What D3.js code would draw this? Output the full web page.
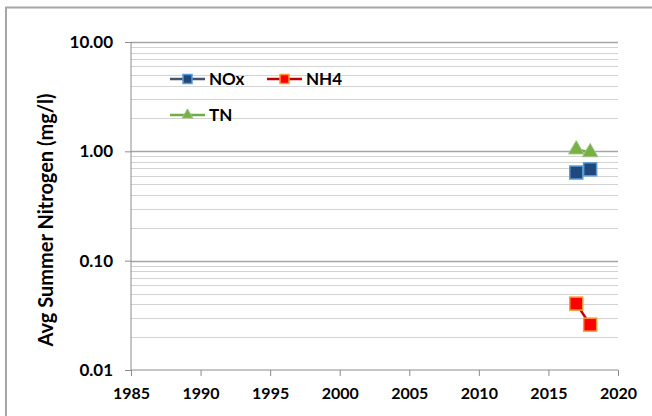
<!DOCTYPE html>
<html>
<head>
<meta charset="utf-8">
<script src="https://cdn.jsdelivr.net/npm/d3@7"></script>
<style>
  body { margin: 0; background: #fff; }
  text { font-family: Lato, "Open Sans", sans-serif; font-weight: bold; }
</style>
</head>
<body>
<div id="chart"></div>
<script>
var years = [2017, 2018]
var nox = [0.64, 0.685]
var nh4 = [0.0405, 0.026]
var tn = [1.04, 0.98]
var xTicks = [1985, 1990, 1995, 2000, 2005, 2010, 2015, 2020]
var yTicks = [0.01, 0.1, 1, 10]
var yTickLabels = ["0.01", "0.10", "1.00", "10.00"]

var width = 652, height = 416
var margin = {top: 42, right: 34, bottom: 46, left: 131}

var svg = d3.select("#chart").append("svg")
    .attr("width", width)
    .attr("height", height)

// outer chart frame
svg.append("path")
    .attr("d", "M6,420 V7.5 H660")
    .attr("fill", "none")
    .attr("stroke", "#a6a6a6")
    .attr("stroke-width", 2)

var x = d3.scaleLinear().domain([1985, 2020]).range([margin.left, width - margin.right])
var y = d3.scaleLog().domain([0.01, 10]).range([height - margin.bottom, margin.top])

// minor gridlines
var minor = []
yTicks.slice(0, 3).forEach(function (d) {
    for (var k = 2; k <= 9; k++) minor.push(d * k)
})
svg.append("g").selectAll("line")
    .data(minor)
    .enter().append("line")
    .attr("x1", x(1985)).attr("x2", x(2020))
    .attr("y1", function (d) { return Math.round(y(d)) + 0.5 })
    .attr("y2", function (d) { return Math.round(y(d)) + 0.5 })
    .attr("stroke", "#d3d3d3")
    .attr("stroke-width", 1.2)

// major gridlines
svg.append("g").selectAll("line")
    .data(yTicks.slice(1))
    .enter().append("line")
    .attr("x1", x(1985)).attr("x2", x(2020))
    .attr("y1", function (d) { return Math.round(y(d)) + 0.5 })
    .attr("y2", function (d) { return Math.round(y(d)) + 0.5 })
    .attr("stroke", "#a6a6a6")
    .attr("stroke-width", 1.5)

// y axis
var yAxis = svg.append("g")
    .attr("transform", "translate(" + x(1985) + ",0)")
    .call(d3.axisLeft(y).tickValues(yTicks).tickSize(6).tickPadding(12)
        .tickFormat(function (d, i) { return yTickLabels[i] }))
yAxis.select(".domain").attr("stroke", "#8c8c8c").attr("d", "M0," + y(0.01) + "V" + y(10))
yAxis.selectAll(".tick line").attr("stroke", "#8c8c8c")
yAxis.selectAll("text").attr("font-size", 17).attr("fill", "#000")
    .attr("font-family", "Lato, sans-serif").attr("font-weight", "bold")

// x axis
var xAxis = svg.append("g")
    .attr("transform", "translate(0," + y(0.01) + ")")
    .call(d3.axisBottom(x).tickValues(xTicks).tickSize(6).tickPadding(12)
        .tickFormat(d3.format("d")))
xAxis.select(".domain").attr("stroke", "#8c8c8c").attr("d", "M" + x(1985) + ",0H" + x(2020))
xAxis.selectAll(".tick line").attr("stroke", "#8c8c8c")
xAxis.selectAll("text").attr("font-size", 16).attr("fill", "#000")
    .attr("font-family", "Lato, sans-serif").attr("font-weight", "bold")

// y axis title
svg.append("text")
    .attr("transform", "translate(53,220) rotate(-90)")
    .attr("text-anchor", "middle")
    .attr("font-size", 20)
    .text("Avg Summer Nitrogen (mg/l)")

var series = [
    {name: "NOx", values: nox, line: "#44546a", fill: "#1f497d", stroke: "#5b9bd5", shape: "square"},
    {name: "NH4", values: nh4, line: "#c00000", fill: "#ff0000", stroke: "#ff9933", shape: "square"},
    {name: "TN", values: tn, line: "#70ad47", fill: "#77b145", stroke: "#9bc27a", shape: "triangle"}
]

var line = d3.line()
    .x(function (d, i) { return x(years[i]) })
    .y(function (d) { return y(d) })

function marker(g, s, size) {
    if (s.shape === "square") {
        g.append("rect")
            .attr("x", -size / 2).attr("y", -size / 2)
            .attr("width", size).attr("height", size)
            .attr("fill", s.fill).attr("stroke", s.stroke).attr("stroke-width", 1.5)
    } else {
        g.append("path")
            .attr("d", d3.symbol().type(d3.symbolTriangle).size(size * size * 0.6)())
            .attr("fill", s.fill).attr("stroke", s.stroke).attr("stroke-width", 1)
    }
}

series.forEach(function (s) {
    svg.append("path")
        .attr("d", line(s.values))
        .attr("fill", "none")
        .attr("stroke", s.line)
        .attr("stroke-width", 2.5)
    s.values.forEach(function (v, i) {
        var g = svg.append("g").attr("transform", "translate(" + x(years[i]) + "," + y(v) + ")")
        marker(g, s, 13)
    })
})

// legend
var legendPos = [[170, 79], [267, 79], [170, 115]]
series.forEach(function (s, i) {
    var g = svg.append("g").attr("transform", "translate(" + legendPos[i][0] + "," + legendPos[i][1] + ")")
    g.append("line").attr("x1", 0).attr("x2", 35).attr("stroke", s.line).attr("stroke-width", 2.5)
    var m = g.append("g").attr("transform", "translate(17.5,0)")
    marker(m, s, 9)
    g.append("text").attr("x", 39).attr("dy", "0.35em").attr("font-size", 17).text(s.name)
})
</script>
</body>
</html>
